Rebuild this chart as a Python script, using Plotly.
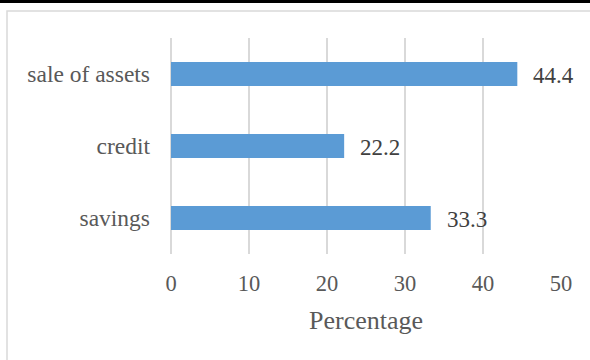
import plotly.graph_objects as go

categories = ["savings", "credit", "sale of assets"]
values = [33.3, 22.2, 44.4]
x_ticks = [0, 10, 20, 30, 40, 50]

W, H = 590, 360
L, R, T, B = 171, 29, 38, 106
pw, ph = W - L - R, H - T - B

def px(x):
    return (x - L) / pw

def py(y):
    return (H - B - y) / ph

FONT = "Liberation Serif, Times New Roman, serif"
GRAY = "#595959"
GRID = "#D9D9D9"

fig = go.Figure()
fig.add_trace(go.Bar(
    y=categories, x=values, orientation="h",
    marker=dict(color="#5B9BD5", line=dict(width=0)),
    width=0.333,
    hoverinfo="skip",
))

annotations = [
    dict(x=v, y=c, xref="x", yref="y", text=f"{v:.1f}", showarrow=False,
         xanchor="left", yanchor="middle", xshift=14, yshift=-1,
         font=dict(family=FONT, size=23, color="#404040"))
    for c, v in zip(categories, values)
]

fig.update_layout(
    width=W, height=H,
    margin=dict(l=L, r=R, t=T, b=B),
    paper_bgcolor="white", plot_bgcolor="white",
    showlegend=False,
    font=dict(family=FONT, color=GRAY, size=23),
    xaxis=dict(
        range=[0, 50], tickvals=x_ticks, showgrid=True,
        gridcolor=GRID, gridwidth=2, zeroline=True, zerolinecolor=GRID, zerolinewidth=2,
        showline=False, ticks="", ticklabelstandoff=13,
        tickfont=dict(size=22.5, color=GRAY),
        title=dict(text="Percentage", font=dict(size=26, color=GRAY), standoff=16),
    ),
    yaxis=dict(
        range=[-0.5, 2.5], showgrid=False, zeroline=False, showline=False,
        ticks="", ticklabelstandoff=20, tickfont=dict(size=23.5, color=GRAY),
    ),
    annotations=annotations,
    shapes=[
        dict(type="rect", xref="paper", yref="paper",
             x0=px(7), x1=px(600), y0=py(370), y1=py(11),
             line=dict(color=GRID, width=1.5), fillcolor="rgba(0,0,0,0)", layer="below"),
        dict(type="rect", xref="paper", yref="paper",
             x0=px(-5), x1=px(600), y0=py(3), y1=py(-5),
             line=dict(width=0), fillcolor="black"),
    ],
)

fig.write_html("out.html")
